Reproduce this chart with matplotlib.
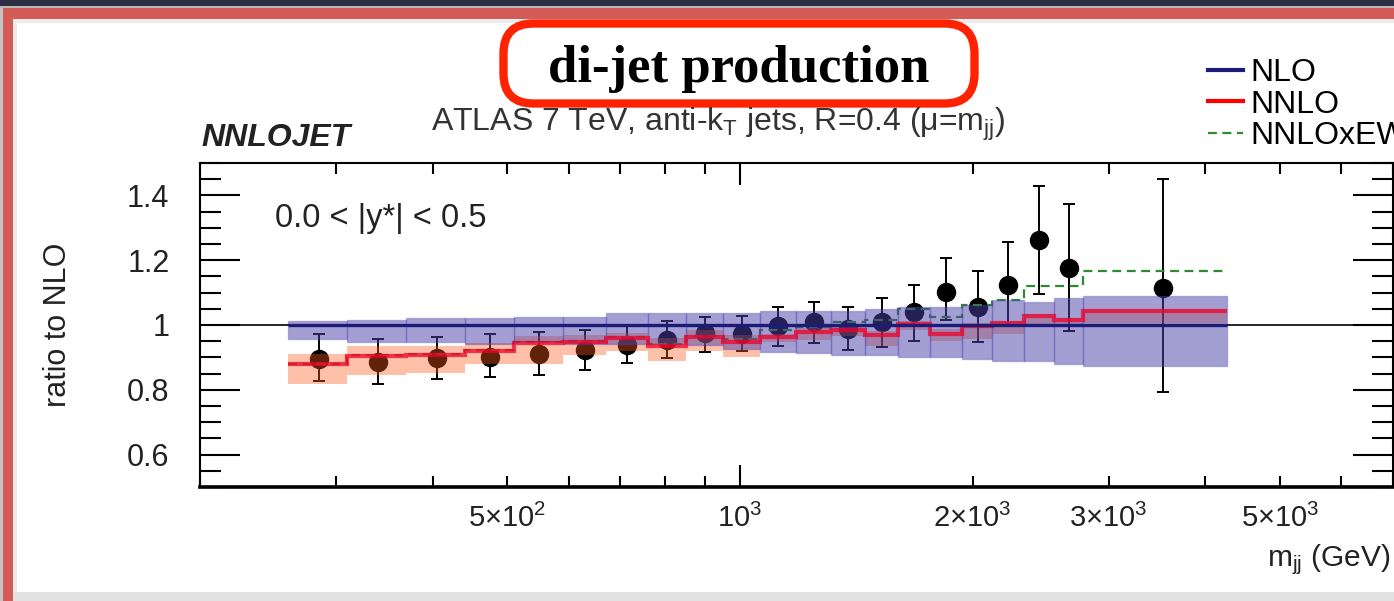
import numpy as np
import matplotlib.pyplot as plt
from matplotlib import ticker
from matplotlib.lines import Line2D
from matplotlib.patches import Rectangle, FancyBboxPatch

plt.rcParams['font.family'] = ['Liberation Sans', 'DejaVu Sans']
plt.rcParams['mathtext.fontset'] = 'custom'
plt.rcParams['mathtext.rm'] = 'Liberation Sans'
plt.rcParams['mathtext.it'] = 'Liberation Sans:italic'
plt.rcParams['mathtext.bf'] = 'Liberation Sans:bold'

# m_jj bin edges (GeV)
edges = [260, 310, 370, 440, 510, 590, 670, 760, 850, 950, 1060, 1180,
         1310, 1450, 1600, 1760, 1940, 2120, 2330, 2550, 2780, 4270]

# NLO (ratio = 1) and its scale band
nlo = [1.0] * 21
nlo_hi = [1.012, 1.015, 1.022, 1.022, 1.026, 1.026, 1.036, 1.036, 1.036, 1.036, 1.044,
          1.042, 1.042, 1.050, 1.055, 1.057, 1.063, 1.076, 1.070, 1.083, 1.091]
nlo_lo = [0.957, 0.949, 0.946, 0.941, 0.946, 0.941, 0.941, 0.941, 0.938, 0.925, 0.917,
          0.915, 0.907, 0.907, 0.900, 0.900, 0.894, 0.889, 0.888, 0.880, 0.873]

# NNLO / NLO and band
nnlo = [0.879, 0.905, 0.908, 0.920, 0.944, 0.949, 0.959, 0.936, 0.962, 0.946, 0.962,
        0.977, 0.984, 0.969, 1.003, 0.972, 0.998, 1.005, 1.029, 1.016, 1.044]
nnlo_hi = [0.910, 0.934, 0.936, 0.945, 0.965, 0.970, 0.975, 0.960, 0.985, 0.970, 0.972,
           0.990, 0.995, 0.982, 1.012, 0.988, 1.005, 1.012, 1.035, 1.022, 1.050]
nnlo_lo = [0.817, 0.845, 0.853, 0.879, 0.879, 0.908, 0.920, 0.889, 0.920, 0.902, 0.946,
           0.955, 0.965, 0.936, 0.985, 0.951, 0.957, 0.972, 1.002, 0.995, 1.005]

# NNLO x EW
nnlo_ew = [0.880, 0.906, 0.910, 0.922, 0.946, 0.952, 0.962, 0.940, 0.966, 0.958, 0.984,
           0.995, 1.008, 1.015, 1.050, 1.024, 1.062, 1.076, 1.119, 1.119, 1.166]

# ATLAS data / NLO
data = [0.894, 0.887, 0.897, 0.902, 0.912, 0.923, 0.938, 0.954, 0.974, 0.972, 0.996,
        1.010, 0.988, 1.008, 1.039, 1.101, 1.055, 1.124, 1.262, 1.177, 1.114]
data_hi = [0.972, 0.957, 0.964, 0.972, 0.979, 0.985, 0.998, 1.013, 1.026, 1.027, 1.055,
           1.070, 1.055, 1.083, 1.125, 1.208, 1.166, 1.257, 1.429, 1.374, 1.450]
data_lo = [0.827, 0.819, 0.834, 0.841, 0.846, 0.860, 0.882, 0.897, 0.917, 0.920, 0.936,
           0.944, 0.924, 0.931, 0.951, 1.015, 0.946, 0.998, 1.096, 0.980, 0.793]

xtick_vals = [500, 1000, 2000, 3000, 5000]
xtick_labels = [r'$\mathregular{5{\times}10^{2}}$', r'$\mathregular{10^{3}}$',
                r'$\mathregular{2{\times}10^{3}}$', r'$\mathregular{3{\times}10^{3}}$',
                r'$\mathregular{5{\times}10^{3}}$']
ytick_vals = [0.6, 0.8, 1.0, 1.2, 1.4]
ytick_labels = ['0.6', '0.8', '1', '1.2', '1.4']

W, H = 1394, 601
fig = plt.figure(figsize=(W / 100, H / 100), dpi=100)


def px_rect(x0, y0, x1, y1, color, z=0):
    r = Rectangle((x0 / 100, (H - y1) / 100), (x1 - x0) / 100, (y1 - y0) / 100,
                  transform=fig.dpi_scale_trans, color=color, lw=0, zorder=z)
    fig.add_artist(r)


# slide frame
px_rect(0, 0, W, 6, '#2f2e45')
px_rect(0, 6, W, 8, '#b8b8b8')
px_rect(0, 8, 3, H, '#c4c4c4')
px_rect(3, 8, W, 19, '#d35b58')
px_rect(3, 8, 13, H, '#d35b58')
px_rect(13, 19, W, 23, '#ececec')
px_rect(13, 19, 17, H, '#ececec')
px_rect(13, 592, W, H, '#e2e2e2')

ax = fig.add_axes([200 / W, 1 - 487 / H, 1193 / W, 324 / H])
ax.set_facecolor('none')

e = np.array(edges, float)
mid = 0.5 * (e[1:] + e[:-1])
y = np.array(data)
yerr = [y - np.array(data_lo), np.array(data_hi) - y]

ax.errorbar(mid, y, yerr=yerr, fmt='o', color='black', ms=13, elinewidth=1.4,
            capsize=4.5, capthick=1.4, zorder=1)
ax.stairs(nnlo_ew, e, baseline=None, color='#2f8a2f', lw=1.6, ls=(0, (4, 2.5)), zorder=1.5)
ax.bar(e[:-1], np.subtract(nnlo_hi, nnlo_lo), width=np.diff(e), bottom=nnlo_lo,
       align='edge', color='#ff5a1e', alpha=0.38, lw=0, zorder=3)
ax.bar(e[:-1], np.subtract(nlo_hi, nlo_lo), width=np.diff(e), bottom=nlo_lo,
       align='edge', facecolor=(0.29, 0.25, 0.66, 0.5), edgecolor=(0.3, 0.27, 0.7, 0.35),
       lw=1, zorder=4)
ax.stairs(nnlo, e, baseline=None, color='#f0002a', lw=3, alpha=0.75, zorder=4.2)
ax.axhline(1, color='black', lw=1.2, zorder=4.5)
ax.stairs(nlo, e, baseline=None, color='#1c1c78', lw=2.4, zorder=5)

ax.set_xscale('log')
ax.set_xlim(200, 7000)
ax.set_ylim(0.5, 1.5)

ax.xaxis.set_major_locator(ticker.FixedLocator([1000]))
ax.xaxis.set_minor_locator(ticker.FixedLocator(
    [200, 300, 400, 500, 600, 700, 800, 900, 2000, 3000, 4000, 5000, 6000, 7000]))
xlab = dict(zip(xtick_vals, xtick_labels))
fmt = ticker.FuncFormatter(lambda v, p: xlab.get(int(round(v)), ''))
ax.xaxis.set_major_formatter(fmt)
ax.xaxis.set_minor_formatter(fmt)

ax.yaxis.set_major_locator(ticker.FixedLocator(ytick_vals))
ax.yaxis.set_major_formatter(ticker.FixedFormatter(ytick_labels))
ax.yaxis.set_minor_locator(ticker.MultipleLocator(0.05))

ax.tick_params(axis='y', which='major', direction='in', length=29, width=1.5,
               left=True, right=True, labelsize=22, pad=22, labelcolor='#222222')
ax.tick_params(axis='y', which='minor', direction='in', length=15, width=1.5,
               left=True, right=True)
ax.tick_params(axis='x', which='major', direction='in', length=16, width=1.5,
               top=True, bottom=True, labelsize=21, pad=12, labelcolor='#222222')
ax.tick_params(axis='x', which='minor', direction='in', length=8, width=1.5,
               top=True, bottom=True, labelsize=21, pad=12, labelcolor='#222222')
for s in ['top', 'left', 'right']:
    ax.spines[s].set_linewidth(1.5)
ax.spines['bottom'].set_linewidth(2.6)

# texts
fig.text(58 / W, 1 - 325 / H, 'ratio to NLO', rotation=90, ha='center', va='center',
         fontsize=22, color='#222222')
fig.text(1390 / W, 1 - 566 / H, r'$\mathregular{m_{jj}}$ (GeV)', ha='right',
         va='baseline', fontsize=21.5, color='#222222')
fig.text(201 / W, 1 - 146 / H, 'NNLOJET', fontsize=23, fontweight='bold',
         fontstyle='italic', va='baseline', color='#222222')
fig.text(431 / W, 1 - 131 / H,
         r'ATLAS 7 TeV, anti-k$_\mathregular{T}$ jets, R=0.4 ($\mathregular{\mu}$=m$_\mathregular{jj}$)',
         fontsize=23, va='baseline', color='#333333')
fig.text(275 / W, 1 - 227 / H, '0.0 < |y*| < 0.5', fontsize=23.5, va='baseline',
         color='#222222')

# title box
box = FancyBboxPatch((503.5 / 100, (H - 103.5) / 100), 471 / 100, 80 / 100,
                     boxstyle='round,pad=0,rounding_size=0.3',
                     transform=fig.dpi_scale_trans, fc='white', ec='#ff2200', lw=6)
fig.add_artist(box)
fig.text(739 / W, 1 - 82 / H, 'di-jet production', ha='center', va='baseline',
         fontsize=38, fontweight='bold', family='Liberation Serif', color='black')

handles = [Line2D([], [], color='#1c1c78', lw=3),
           Line2D([], [], color='#ff0000', lw=3),
           Line2D([], [], color='#2f8a2f', lw=1.6, ls=(0, (4, 2.5)))]
fig.legend(handles, ['NLO', 'NNLO', 'NNLOxEW'], loc='upper left',
           bbox_to_anchor=(1208 / W, 1 - 58 / H), frameon=False, fontsize=23,
           handlelength=1.1, handletextpad=0.22, labelspacing=0.05,
           borderpad=0, borderaxespad=0)

fig.savefig('out.png', dpi=100)
